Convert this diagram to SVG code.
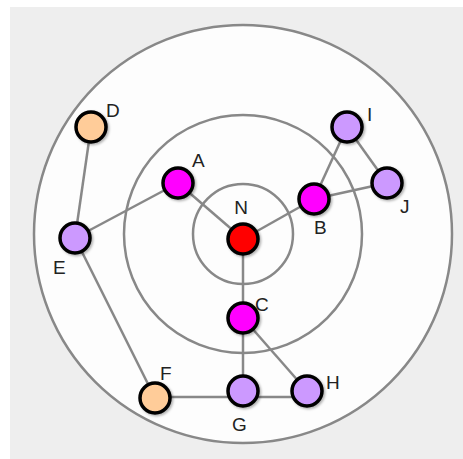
<svg xmlns="http://www.w3.org/2000/svg" width="463" height="459" viewBox="0 0 463 459">
<defs>
<style>
.ring{fill:none;stroke:#888;stroke-width:2.5}
.edge{stroke:#888;stroke-width:2.5;fill:none}
.node{stroke:#000;stroke-width:3.5}
.lbl{font-family:"Liberation Sans",Arial,sans-serif;font-size:19px;fill:#222}
.core{fill:#ff0000}
.hub{fill:#ff00ff}
.leaf{fill:#cc99ff}
.end{fill:#ffcc99}
</style>
<filter id="sh" x="-30%" y="-30%" width="160%" height="160%">
<feDropShadow dx="1.5" dy="1.5" stdDeviation="1" flood-color="#000" flood-opacity="0.3"/>
</filter>
</defs>
<rect width="463" height="459" fill="#ffffff"/>
<rect x="10" y="7" width="453" height="452" fill="#eeeeee"/>
<circle cx="243" cy="234" r="209" fill="#fdfdfd" stroke="#888" stroke-width="2.5"/>
<circle class="ring" cx="243" cy="234" r="119"/>
<circle class="ring" cx="243" cy="234" r="50"/>
<g id="connectors">
<line class="edge" x1="243" y1="239" x2="178" y2="183"/>
<line class="edge" x1="243" y1="239" x2="314" y2="199"/>
<line class="edge" x1="243" y1="239" x2="243" y2="318"/>
<line class="edge" x1="178" y1="183" x2="75" y2="238"/>
<line class="edge" x1="75" y1="238" x2="91" y2="127"/>
<line class="edge" x1="75" y1="238" x2="155" y2="398"/>
<line class="edge" x1="314" y1="199" x2="347" y2="127"/>
<line class="edge" x1="314" y1="199" x2="387" y2="183"/>
<line class="edge" x1="347" y1="127" x2="387" y2="183"/>
<line class="edge" x1="243" y1="318" x2="243" y2="391"/>
<line class="edge" x1="243" y1="318" x2="307" y2="391"/>
<line class="edge" x1="155" y1="397" x2="243" y2="397"/>
<line class="edge" x1="243" y1="397" x2="307" y2="397"/>
</g>
<g id="node-N"><circle class="node core" filter="url(#sh)" cx="243" cy="239" r="15"/><text class="lbl" x="241" y="214" text-anchor="middle">N</text></g>
<g id="node-A"><circle class="node hub" filter="url(#sh)" cx="178" cy="183" r="15"/><text class="lbl" x="192" y="167">A</text></g>
<g id="node-B"><circle class="node hub" filter="url(#sh)" cx="314" cy="199" r="15"/><text class="lbl" x="314" y="234">B</text></g>
<g id="node-C"><circle class="node hub" filter="url(#sh)" cx="243" cy="318" r="15"/><text class="lbl" x="255" y="311">C</text></g>
<g id="node-D"><circle class="node end" filter="url(#sh)" cx="91" cy="127" r="15"/><text class="lbl" x="106" y="117">D</text></g>
<g id="node-E"><circle class="node leaf" filter="url(#sh)" cx="75" cy="238" r="15"/><text class="lbl" x="53" y="274">E</text></g>
<g id="node-F"><circle class="node end" filter="url(#sh)" cx="155" cy="398" r="15"/><text class="lbl" x="160" y="380">F</text></g>
<g id="node-G"><circle class="node leaf" filter="url(#sh)" cx="243" cy="391" r="15"/><text class="lbl" x="232" y="431">G</text></g>
<g id="node-H"><circle class="node leaf" filter="url(#sh)" cx="307" cy="391" r="15"/><text class="lbl" x="326" y="389">H</text></g>
<g id="node-I"><circle class="node leaf" filter="url(#sh)" cx="347" cy="127" r="15"/><text class="lbl" x="367" y="121">I</text></g>
<g id="node-J"><circle class="node leaf" filter="url(#sh)" cx="387" cy="183" r="15"/><text class="lbl" x="400" y="213">J</text></g>
</svg>
